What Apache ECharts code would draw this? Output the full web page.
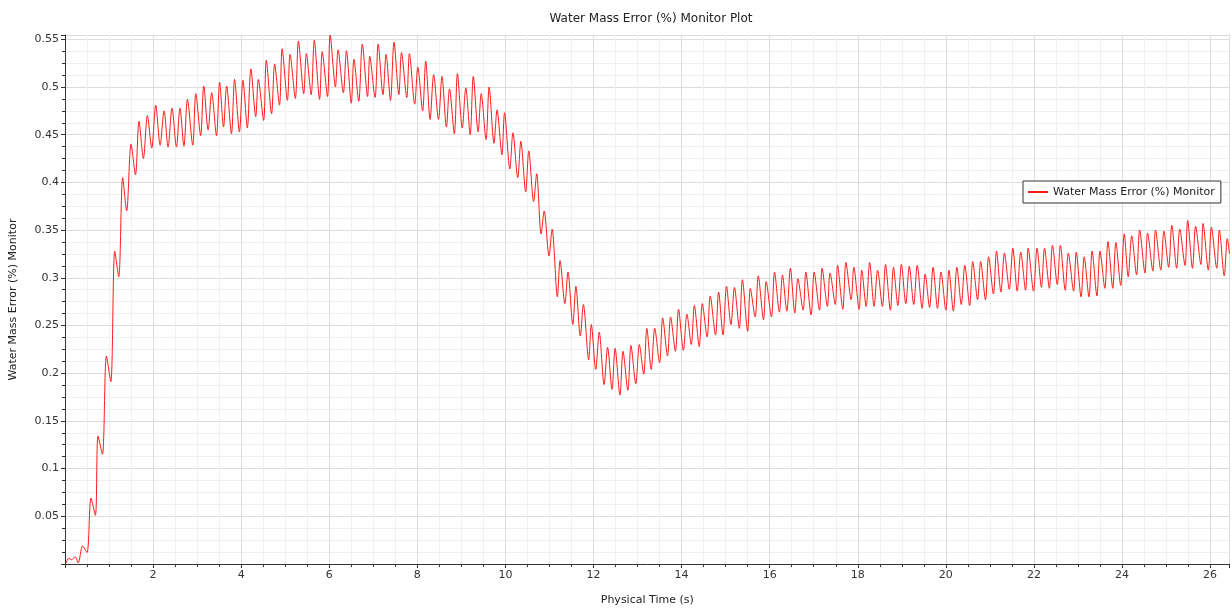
<!DOCTYPE html>
<html>
<head>
<meta charset="utf-8">
<title>Water Mass Error (%) Monitor Plot</title>
<script src="https://cdn.jsdelivr.net/npm/echarts@6/dist/echarts.min.js"></script>
<style>
  html, body { margin: 0; padding: 0; background: #fff; }
  #chart { width: 1232px; height: 611px; }
</style>
</head>
<body>
<div id="chart"></div>
<script>
// physical time (s) of each peak / trough
const timeS = [
  0.03, 0.08, 0.15, 0.23, 0.30, 0.40, 0.50, 0.59, 0.69, 0.75, 0.85, 0.94, 1.04, 1.13, 1.22, 1.31, 1.40, 1.50, 1.60, 1.68,
  1.78, 1.87, 1.97, 2.06, 2.16, 2.25, 2.34, 2.43, 2.53, 2.61, 2.70, 2.78, 2.90, 2.97, 3.08, 3.15, 3.25, 3.33, 3.44, 3.51,
  3.60, 3.67, 3.78, 3.85, 3.96, 4.04, 4.14, 4.22, 4.33, 4.39, 4.51, 4.57, 4.69, 4.76, 4.87, 4.93, 5.05, 5.11, 5.23, 5.30,
  5.42, 5.48, 5.59, 5.66, 5.78, 5.84, 5.96, 6.02, 6.14, 6.20, 6.32, 6.39, 6.50, 6.56, 6.67, 6.75, 6.87, 6.92, 7.04, 7.11,
  7.22, 7.29, 7.39, 7.47, 7.58, 7.64, 7.76, 7.82, 7.94, 8.01, 8.12, 8.19, 8.29, 8.37, 8.48, 8.56, 8.66, 8.73, 8.84, 8.91,
  9.02, 9.10, 9.20, 9.27, 9.38, 9.45, 9.56, 9.63, 9.74, 9.81, 9.92, 9.98, 10.10, 10.17, 10.28, 10.35, 10.46, 10.53, 10.64, 10.71,
  10.81, 10.88, 10.99, 11.06, 11.18, 11.24, 11.35, 11.42, 11.53, 11.60, 11.70, 11.77, 11.89, 11.95, 12.05, 12.13, 12.24, 12.32, 12.42, 12.49,
  12.60, 12.67, 12.78, 12.85, 12.96, 13.04, 13.14, 13.21, 13.31, 13.39, 13.50, 13.57, 13.68, 13.75, 13.86, 13.93, 14.04, 14.12, 14.22, 14.29,
  14.40, 14.47, 14.58, 14.65, 14.77, 14.84, 14.94, 15.02, 15.12, 15.20, 15.31, 15.38, 15.50, 15.56, 15.67, 15.74, 15.86, 15.92, 16.04, 16.11,
  16.22, 16.29, 16.39, 16.47, 16.57, 16.64, 16.76, 16.82, 16.94, 17.01, 17.13, 17.19, 17.31, 17.37, 17.49, 17.54, 17.66, 17.73, 17.85, 17.91,
  18.03, 18.09, 18.19, 18.27, 18.37, 18.45, 18.56, 18.63, 18.74, 18.81, 18.91, 18.99, 19.09, 19.17, 19.27, 19.35, 19.46, 19.53, 19.63, 19.71,
  19.81, 19.89, 20.00, 20.07, 20.17, 20.25, 20.35, 20.43, 20.54, 20.61, 20.72, 20.79, 20.90, 20.97, 21.08, 21.15, 21.25, 21.33, 21.44, 21.52,
  21.62, 21.70, 21.81, 21.87, 21.99, 22.07, 22.17, 22.24, 22.35, 22.42, 22.53, 22.60, 22.71, 22.78, 22.90, 22.96, 23.07, 23.14, 23.25, 23.32,
  23.43, 23.50, 23.61, 23.68, 23.79, 23.86, 23.97, 24.05, 24.14, 24.22, 24.33, 24.40, 24.52, 24.58, 24.70, 24.76, 24.88, 24.95, 25.06, 25.13,
  25.24, 25.31, 25.43, 25.49, 25.60, 25.67, 25.79, 25.84, 25.96, 26.03, 26.15, 26.21, 26.32, 26.39, 26.44
];

// water mass error (%) at those times
const errorPct = [
  0.001, 0.006, 0.0045, 0.0076, 0.001, 0.019, 0.012, 0.069, 0.051, 0.134, 0.115, 0.218, 0.191, 0.328, 0.301, 0.405, 0.370, 0.440, 0.408, 0.464,
  0.425, 0.470, 0.436, 0.481, 0.439, 0.475, 0.437, 0.478, 0.437, 0.478, 0.438, 0.487, 0.439, 0.493, 0.449, 0.501, 0.455, 0.494, 0.449, 0.505,
  0.458, 0.501, 0.451, 0.508, 0.453, 0.507, 0.457, 0.519, 0.469, 0.508, 0.465, 0.528, 0.472, 0.524, 0.481, 0.540, 0.486, 0.534, 0.488, 0.548,
  0.493, 0.535, 0.492, 0.549, 0.487, 0.537, 0.490, 0.5545, 0.500, 0.539, 0.494, 0.538, 0.483, 0.529, 0.485, 0.545, 0.490, 0.532, 0.489, 0.545,
  0.492, 0.534, 0.486, 0.547, 0.492, 0.536, 0.489, 0.535, 0.482, 0.521, 0.475, 0.527, 0.466, 0.513, 0.466, 0.511, 0.458, 0.498, 0.451, 0.514,
  0.457, 0.499, 0.450, 0.511, 0.453, 0.493, 0.445, 0.500, 0.441, 0.476, 0.429, 0.473, 0.414, 0.452, 0.405, 0.443, 0.390, 0.433, 0.380, 0.409,
  0.346, 0.370, 0.323, 0.351, 0.280, 0.318, 0.273, 0.306, 0.251, 0.291, 0.239, 0.272, 0.214, 0.251, 0.204, 0.243, 0.188, 0.227, 0.183, 0.226,
  0.177, 0.223, 0.182, 0.229, 0.189, 0.230, 0.199, 0.247, 0.204, 0.247, 0.211, 0.258, 0.218, 0.259, 0.223, 0.267, 0.224, 0.262, 0.230, 0.271,
  0.228, 0.273, 0.238, 0.281, 0.240, 0.285, 0.240, 0.291, 0.251, 0.290, 0.247, 0.298, 0.244, 0.289, 0.259, 0.302, 0.256, 0.296, 0.259, 0.306,
  0.264, 0.303, 0.265, 0.310, 0.263, 0.299, 0.266, 0.306, 0.261, 0.306, 0.266, 0.310, 0.270, 0.305, 0.272, 0.313, 0.267, 0.316, 0.277, 0.311,
  0.267, 0.308, 0.270, 0.316, 0.270, 0.308, 0.270, 0.314, 0.266, 0.311, 0.271, 0.314, 0.273, 0.312, 0.272, 0.313, 0.268, 0.304, 0.269, 0.311,
  0.268, 0.306, 0.266, 0.308, 0.265, 0.311, 0.272, 0.313, 0.271, 0.317, 0.277, 0.317, 0.277, 0.322, 0.283, 0.328, 0.285, 0.326, 0.288, 0.331,
  0.286, 0.327, 0.287, 0.331, 0.286, 0.331, 0.290, 0.331, 0.289, 0.334, 0.293, 0.334, 0.287, 0.326, 0.286, 0.327, 0.280, 0.322, 0.280, 0.328,
  0.281, 0.328, 0.289, 0.338, 0.289, 0.337, 0.292, 0.346, 0.301, 0.344, 0.303, 0.350, 0.305, 0.347, 0.307, 0.350, 0.308, 0.349, 0.311, 0.355,
  0.310, 0.351, 0.313, 0.360, 0.310, 0.354, 0.314, 0.357, 0.308, 0.353, 0.310, 0.350, 0.302, 0.341, 0.325
];

const xTicks = { min: 0, max: 26.44, step: 2 };
const yTicks = { min: 0, max: 0.5545, step: 0.05 };
const seriesName = 'Water Mass Error (%) Monitor';

const points = timeS.map((t, i) => [t, errorPct[i]]);

const chart = echarts.init(document.getElementById('chart'));
const font = 'DejaVu Sans';

chart.setOption({
  animation: false,
  textStyle: { fontFamily: font },
  title: {
    text: 'Water Mass Error (%) Monitor Plot',
    left: 646,
    textAlign: 'center',
    top: 8,
    textStyle: { fontSize: 12, fontWeight: 'normal', color: '#222', fontFamily: font }
  },
  legend: {
    left: 1023,
    top: 181,
    padding: [5, 6, 5, 5],
    itemWidth: 20,
    itemHeight: 2,
    itemGap: 0,
    icon: 'rect',
    backgroundColor: '#fff',
    borderColor: '#333',
    borderWidth: 1,
    borderRadius: 0,
    textStyle: { fontSize: 11, color: '#222', fontFamily: font, lineHeight: 12 },
    data: [seriesName]
  },
  grid: {
    left: 64,
    right: 2.5,
    top: 35,
    bottom: 44,
    containLabel: false
  },
  xAxis: {
    type: 'value',
    min: xTicks.min,
    max: xTicks.max,
    interval: xTicks.step,
    name: 'Physical Time (s)',
    nameLocation: 'middle',
    nameGap: 31,
    nameTextStyle: { fontSize: 11, color: '#222', fontFamily: font },
    axisLine: { show: true, onZero: false, lineStyle: { color: '#333', width: 1 } },
    axisTick: { show: true, length: 4, lineStyle: { color: '#333' } },
    minorTick: { show: true, splitNumber: 4, length: 3, lineStyle: { color: '#333' } },
    axisLabel: {
      fontSize: 11,
      color: '#333',
      margin: 6,
      showMinLabel: false,
      showMaxLabel: false,
      fontFamily: font
    },
    splitLine: { show: true, lineStyle: { color: '#dcdcdc', width: 1 } },
    minorSplitLine: { show: true, lineStyle: { color: '#f0f0f0', width: 1 } }
  },
  yAxis: {
    type: 'value',
    min: yTicks.min,
    max: yTicks.max,
    interval: yTicks.step,
    name: 'Water Mass Error (%) Monitor',
    nameLocation: 'middle',
    nameRotate: 90,
    nameGap: 46,
    nameTextStyle: { fontSize: 11, color: '#222', fontFamily: font },
    axisLine: { show: true, onZero: false, lineStyle: { color: '#333', width: 1 } },
    axisTick: { show: true, length: 4, lineStyle: { color: '#333' } },
    minorTick: { show: true, splitNumber: 4, length: 3, lineStyle: { color: '#333' } },
    axisLabel: {
      fontSize: 11,
      color: '#333',
      margin: 6,
      showMinLabel: false,
      showMaxLabel: false,
      fontFamily: font
    },
    splitLine: { show: true, lineStyle: { color: '#dcdcdc', width: 1 } },
    minorSplitLine: { show: true, lineStyle: { color: '#f0f0f0', width: 1 } }
  },
  series: [{
    name: seriesName,
    type: 'line',
    data: points,
    symbol: 'none',
    smooth: 0.3,
    lineStyle: { color: '#ff1a1a', width: 1 },
    itemStyle: { color: '#ff1a1a' }
  }]
});
</script>
</body>
</html>
